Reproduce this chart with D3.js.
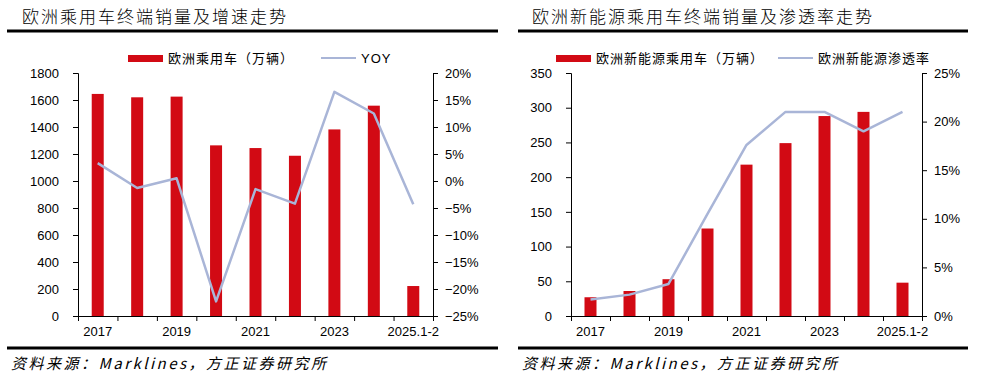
<!DOCTYPE html>
<html>
<head>
<meta charset="utf-8">
<script src="https://cdn.jsdelivr.net/npm/d3@7"></script>
<style>
  body { margin: 0; background: #fff; }
  svg { display: block; }
  .tick text { font-family: "Liberation Sans", Arial, sans-serif; font-size: 13px; fill: #000; }
  .cn { font-family: "Noto Sans CJK SC", sans-serif; fill: #000; }
</style>
</head>
<body>
<svg id="chart" width="1000" height="381"></svg>
<script>
// categories shared by both charts
const years = ["2017", "2018", "2019", "2020", "2021", "2022", "2023", "2024", "2025.1-2"];
const shownYears = ["2017", "2019", "2021", "2023", "2025.1-2"];

// left: Europe passenger car sales (10k units) and YoY
const salesEU = [1645, 1620, 1625, 1264, 1244, 1187, 1382, 1558, 222];
const yoyEU = [3.3, -1.3, 0.5, -22.3, -1.5, -4.2, 16.5, 12.5, -4.3];

// right: Europe NEV passenger car sales (10k units) and penetration rate
const salesNEV = [27, 36, 53, 126, 218, 249, 288, 294, 48];
const penNEV = [1.7, 2.2, 3.3, 10.5, 17.6, 21.0, 21.0, 19.0, 21.0];

const svg = d3.select("#chart");
const RED = "#d20a14";
const LINE = "#a9b5d7";

function drawPanel(cfg) {
  const x = d3.scaleBand().domain(years).range([cfg.left, cfg.right]);
  const yL = d3.scaleLinear().domain(cfg.leftDomain).range([316, 73]);
  const yR = d3.scaleLinear().domain(cfg.rightDomain).range([316, 73]);

  // title + rule
  svg.append("text").attr("class", "cn")
    .attr("x", cfg.titleX).attr("y", 23)
    .style("font-size", "17px").style("letter-spacing", "2px")
    .style("font-weight", 300)
    .text(cfg.title);
  svg.append("line")
    .attr("x1", cfg.ruleX[0]).attr("x2", cfg.ruleX[1])
    .attr("y1", 31).attr("y2", 31)
    .attr("stroke", "#000").attr("stroke-width", 3);

  // legend
  const lg = svg.append("g");
  lg.append("rect").attr("x", cfg.legend[0]).attr("y", 55).attr("width", 35).attr("height", 7).attr("fill", RED);
  lg.append("text").attr("class", "cn").attr("x", cfg.legend[0] + 40).attr("y", 63)
    .style("font-size", "13px").style("letter-spacing", "1px").text(cfg.barName);
  lg.append("line").attr("x1", cfg.legend[1]).attr("x2", cfg.legend[1] + 35)
    .attr("y1", 58).attr("y2", 58).attr("stroke", LINE).attr("stroke-width", 2);
  lg.append("text").attr("class", cfg.lineName === "YOY" ? "" : "cn")
    .attr("x", cfg.legend[1] + 40).attr("y", 63)
    .style("font-size", "13px").style("letter-spacing", "1px")
    .style("font-family", cfg.lineName === "YOY" ? "Liberation Sans, Arial" : null)
    .text(cfg.lineName);

  // bars
  const bw = 12;
  svg.append("g").selectAll("rect")
    .data(cfg.bars)
    .join("rect")
    .attr("x", (d, i) => x(years[i]) + x.bandwidth() / 2 - bw / 2)
    .attr("y", d => yL(d))
    .attr("width", bw)
    .attr("height", d => yL(cfg.leftDomain[0]) - yL(d))
    .attr("fill", RED);

  // line
  const line = d3.line()
    .x((d, i) => x(years[i]) + x.bandwidth() / 2)
    .y(d => yR(d));
  svg.append("path")
    .datum(cfg.line)
    .attr("d", line)
    .attr("fill", "none")
    .attr("stroke", LINE)
    .attr("stroke-width", 2.5)
    .attr("stroke-linejoin", "round");

  // axes
  svg.append("g")
    .attr("transform", `translate(${cfg.left},0)`)
    .call(d3.axisLeft(yL).tickValues(d3.range(cfg.leftDomain[0], cfg.leftDomain[1] + 1, cfg.leftStep))
      .tickSize(5).tickPadding(14).tickFormat(d3.format("d")))
    .call(g => g.selectAll("path, line").attr("stroke", "#000"));

  svg.append("g")
    .attr("transform", `translate(${cfg.right},0)`)
    .call(d3.axisRight(yR).tickValues(d3.range(cfg.rightDomain[0], cfg.rightDomain[1] + 0.1, 5))
      .tickSize(5).tickPadding(7).tickFormat(d => d3.format("d")(d) + "%"))
    .call(g => g.selectAll("path, line").attr("stroke", "#000"));

  // x axis: tick marks at band edges, labels every other year
  const edges = d3.scaleLinear().domain([0, years.length]).range([cfg.left, cfg.right]);
  svg.append("g")
    .attr("transform", "translate(0,316)")
    .call(d3.axisBottom(edges).tickValues(d3.range(0, years.length + 1)).tickSize(5).tickSizeOuter(0).tickFormat(""))
    .call(g => g.selectAll("path, line").attr("stroke", "#000"));
  svg.append("g")
    .attr("transform", "translate(0,316)")
    .call(d3.axisBottom(x).tickValues(shownYears).tickSize(0).tickPadding(11))
    .call(g => g.select(".domain").remove());

  // source rule + text
  svg.append("line")
    .attr("x1", cfg.footX[0]).attr("x2", cfg.footX[1])
    .attr("y1", 348).attr("y2", 348)
    .attr("stroke", "#000").attr("stroke-width", 3);
  svg.append("text").attr("class", "cn")
    .attr("x", cfg.footX[0] + 4).attr("y", 369)
    .style("font-size", "15px").style("font-style", "italic")
    .style("letter-spacing", "2.5px")
    .text("资料来源：Marklines，方正证券研究所");
}

drawPanel({
  title: "欧洲乘用车终端销量及增速走势",
  titleX: 22, ruleX: [7, 498], footX: [7, 498],
  left: 78, right: 433,
  leftDomain: [0, 1800], leftStep: 200,
  rightDomain: [-25, 20],
  legend: [128, 321],
  barName: "欧洲乘用车（万辆）", lineName: "YOY",
  bars: salesEU, line: yoyEU
});

drawPanel({
  title: "欧洲新能源乘用车终端销量及渗透率走势",
  titleX: 532, ruleX: [518, 968], footX: [518, 968],
  left: 571, right: 922,
  leftDomain: [0, 350], leftStep: 50,
  rightDomain: [0, 25],
  legend: [556, 778],
  barName: "欧洲新能源乘用车（万辆）", lineName: "欧洲新能源渗透率",
  bars: salesNEV, line: penNEV
});
</script>
</body>
</html>
